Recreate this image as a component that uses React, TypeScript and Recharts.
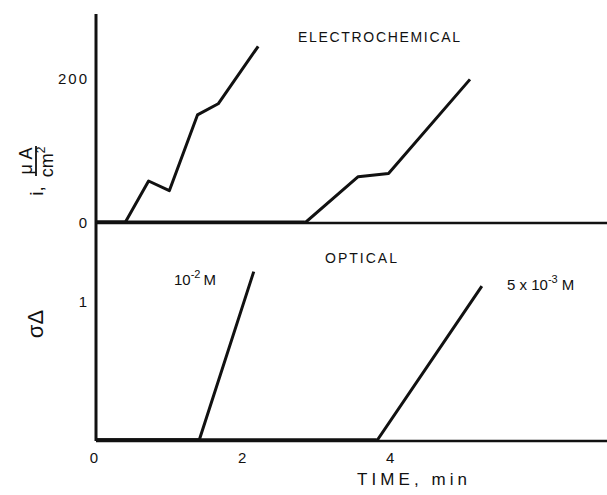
import React from "react";
import { LineChart, Line, XAxis, YAxis } from "recharts";

// ---- data ----
const timeTicks = [0, 2, 4];
const elecTicks = [0, 200];
const optTicks = [1];

// Electrochemical current density (µA/cm²) vs time (min)
const elecHigh = [
  { t: 0, v: 0 },
  { t: 0.39, v: 0 },
  { t: 0.71, v: 58.5 },
  { t: 0.99, v: 45 },
  { t: 1.37, v: 150.5 },
  { t: 1.65, v: 166 },
  { t: 2.19, v: 246 },
];
const elecLow = [
  { t: 0, v: 0 },
  { t: 2.82, v: 0 },
  { t: 3.54, v: 64.5 },
  { t: 3.95, v: 69 },
  { t: 5.05, v: 200 },
];
// Optical σΔ vs time (min)
const optHigh = [
  { t: 0, v: 0 },
  { t: 1.39, v: 0 },
  { t: 2.13, v: 1.22 },
];
const optLow = [
  { t: 0, v: 0 },
  { t: 3.79, v: 0 },
  { t: 5.21, v: 1.115 },
];

const FONT = "'Liberation Sans', Arial, Helvetica, sans-serif";
const INK = "#111";

const YTick = (props: any) => {
  const { x, y, payload } = props;
  return (
    <text x={x + 1} y={y} dy={5} textAnchor="end" fontSize={15} letterSpacing={2} fontFamily={FONT} fill={INK}>
      {payload.value}
    </text>
  );
};

const XTick = (props: any) => {
  const { x, y, payload } = props;
  return (
    <text x={x - 2} y={y} dy={14} textAnchor="middle" fontSize={15} fontFamily={FONT} fill={INK}>
      {payload.value}
    </text>
  );
};

export default function App() {
  return (
    <div style={{ position: "absolute", left: 0, top: 0, width: 607, height: 495, background: "#fff" }}>
      {/* Top panel: ELECTROCHEMICAL */}
      <div style={{ position: "absolute", left: 0, top: 0 }}>
        <LineChart width={607} height={240} margin={{ top: 14, right: 0, bottom: 0, left: 0 }}>
          <XAxis
            dataKey="t"
            type="number"
            domain={[0, 6.9]}
            ticks={timeTicks}
            tick={false}
            tickLine={false}
            height={17}
            axisLine={{ stroke: INK, strokeWidth: 2.5 }}
            allowDataOverflow
          />
          <YAxis
            type="number"
            domain={[0, 291]}
            ticks={elecTicks}
            interval={0}
            width={96}
            tickLine={false}
            tick={<YTick />}
            axisLine={{ stroke: INK, strokeWidth: 3 }}
            allowDataOverflow
          />
          <Line data={elecHigh.slice(0, 2)} dataKey="v" stroke={INK} strokeWidth={5} dot={false} activeDot={false} isAnimationActive={false} />
          <Line data={elecLow.slice(0, 2)} dataKey="v" stroke={INK} strokeWidth={5} dot={false} activeDot={false} isAnimationActive={false} />
          <Line data={elecHigh} dataKey="v" type="linear" stroke={INK} strokeWidth={3} strokeLinejoin="round" dot={false} activeDot={false} isAnimationActive={false} />
          <Line data={elecLow} dataKey="v" type="linear" stroke={INK} strokeWidth={3} strokeLinejoin="round" dot={false} activeDot={false} isAnimationActive={false} />
        </LineChart>
      </div>

      {/* Bottom panel: OPTICAL */}
      <div style={{ position: "absolute", left: 0, top: 223 }}>
        <LineChart width={607} height={272} margin={{ top: 0, right: 0, bottom: 0, left: 0 }}>
          <XAxis
            dataKey="t"
            type="number"
            domain={[0, 6.9]}
            ticks={timeTicks}
            interval={0}
            tickLine={false}
            tick={<XTick />}
            height={54}
            axisLine={{ stroke: INK, strokeWidth: 2.5 }}
            allowDataOverflow
          />
          <YAxis
            type="number"
            domain={[0, 1.57]}
            ticks={optTicks}
            interval={0}
            width={96}
            tickLine={false}
            tick={<YTick />}
            axisLine={{ stroke: INK, strokeWidth: 3 }}
            allowDataOverflow
          />
          <Line data={optHigh.slice(0, 2)} dataKey="v" stroke={INK} strokeWidth={5.5} dot={false} activeDot={false} isAnimationActive={false} />
          <Line data={optLow.slice(0, 2)} dataKey="v" stroke={INK} strokeWidth={5.5} dot={false} activeDot={false} isAnimationActive={false} />
          <Line data={optHigh} dataKey="v" type="linear" stroke={INK} strokeWidth={3} strokeLinejoin="round" dot={false} activeDot={false} isAnimationActive={false} />
          <Line data={optLow} dataKey="v" type="linear" stroke={INK} strokeWidth={3} strokeLinejoin="round" dot={false} activeDot={false} isAnimationActive={false} />
        </LineChart>
      </div>

      {/* Titles, axis titles and annotations */}
      <svg width={607} height={495} style={{ position: "absolute", left: 0, top: 0, pointerEvents: "none" }} fontFamily={FONT} fill={INK}>
        <text x={298} y={42} fontSize={14} textLength={162} lengthAdjust="spacing">ELECTROCHEMICAL</text>
        <text x={325} y={263} fontSize={14} textLength={72} lengthAdjust="spacing">OPTICAL</text>
        <text x={174} y={285} fontSize={15}>
          10<tspan dy={-7} fontSize={11}>-2</tspan>
          <tspan dy={7} dx={3} fontSize={15}>M</tspan>
        </text>
        <text x={507} y={290} fontSize={15}>
          5 x 10<tspan dy={-7} fontSize={11}>-3</tspan>
          <tspan dy={7} dx={4} fontSize={15}>M</tspan>
        </text>
        <text x={357} y={485} fontSize={17} textLength={110} lengthAdjust="spacing">TIME, min</text>

        {/* y title top: i, µA/cm² */}
        <text transform="translate(43,191) rotate(-90)" textAnchor="middle" fontSize={19}>i,</text>
        <text transform="translate(32,161) rotate(-90)" textAnchor="middle" fontSize={18} textLength={27} lengthAdjust="spacing">μA</text>
        <line x1={36} y1={146} x2={36} y2={176} stroke={INK} strokeWidth={1.8} />
        <text transform="translate(53,162) rotate(-90)" textAnchor="middle" fontSize={18}>
          cm<tspan dy={-8} fontSize={12}>2</tspan>
        </text>

        {/* y title bottom: σΔ */}
        <text transform="translate(43,324) rotate(-90)" textAnchor="middle" fontSize={22}>σΔ</text>
      </svg>
    </div>
  );
}
